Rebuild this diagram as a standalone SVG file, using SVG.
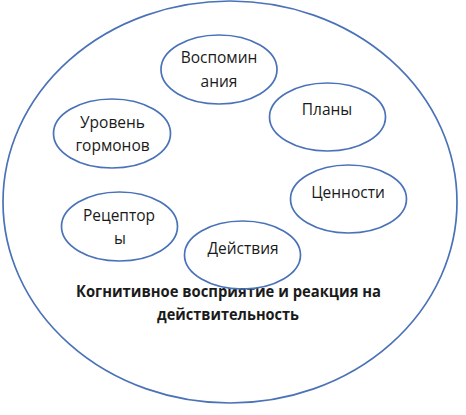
<svg xmlns="http://www.w3.org/2000/svg" width="466" height="415" viewBox="0 0 466 415">
<style>
.e{fill:none;stroke:#4a72b8;stroke-width:1.7}
.t{font-family:"Open Sans","Liberation Sans",sans-serif;font-size:15.5px;fill:#1a1a1a;text-anchor:middle}
.b{font-family:"Open Sans","Liberation Sans",sans-serif;font-size:15.5px;font-weight:bold;fill:#1a1a1a;text-anchor:middle}
</style>
<rect width="466" height="415" fill="#ffffff"/>
<g id="outer">
<ellipse class="e" cx="230" cy="202" rx="227" ry="201"/>
<text class="b" x="228.5" y="297" textLength="305" lengthAdjust="spacingAndGlyphs">Когнитивное восприятие и реакция на</text>
<text class="b" x="228" y="320" textLength="142" lengthAdjust="spacingAndGlyphs">действительность</text>
</g>
<g id="vospominaniya">
<ellipse class="e" cx="219" cy="69.5" rx="58" ry="34.5"/>
<text class="t" x="219" y="63">Воспомин</text>
<text class="t" x="219" y="87">ания</text>
</g>
<g id="plany">
<ellipse class="e" cx="327.5" cy="117" rx="58" ry="34"/>
<text class="t" x="327" y="115">Планы</text>
</g>
<g id="uroven">
<ellipse class="e" cx="112" cy="133.5" rx="58.5" ry="34.5"/>
<text class="t" x="112.5" y="128">Уровень</text>
<text class="t" x="112.5" y="151">гормонов</text>
</g>
<g id="tsennosti">
<ellipse class="e" cx="348.5" cy="199" rx="58" ry="34"/>
<text class="t" x="348" y="198">Ценности</text>
</g>
<g id="retseptory">
<ellipse class="e" cx="119.5" cy="226.5" rx="58" ry="34.5"/>
<text class="t" x="119" y="221">Рецептор</text>
<text class="t" x="120" y="244">ы</text>
</g>
<g id="deystviya">
<ellipse class="e" cx="242.5" cy="255" rx="58" ry="34"/>
<text class="t" x="243" y="254">Действия</text>
</g>
<g id="connectors"></g>
</svg>
